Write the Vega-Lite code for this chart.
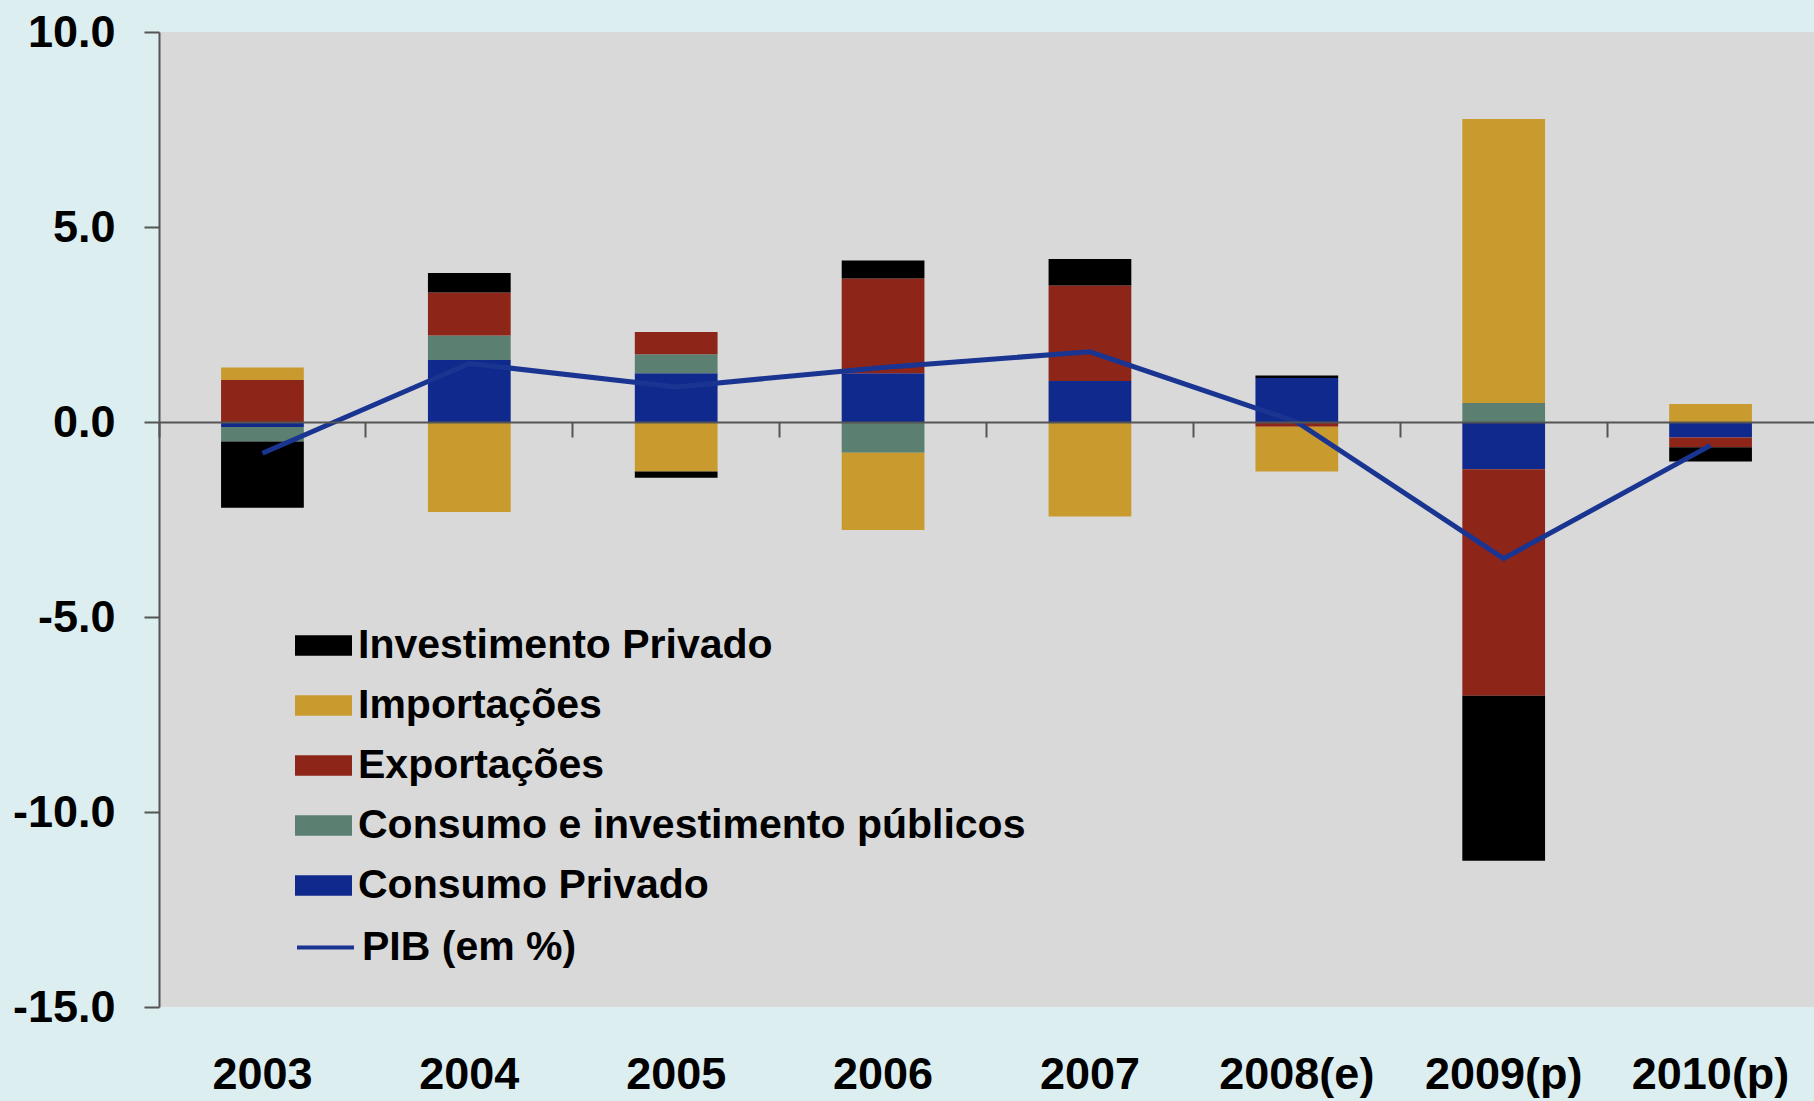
{
  "$schema": "https://vega.github.io/schema/vega-lite/v6.json",
  "width": 1655,
  "height": 975,
  "autosize": "none",
  "padding": {"left": 159, "top": 32, "right": 0, "bottom": 94},
  "background": "#DCEEF0",
  "config": {"view": {"fill": "#D9D9D9", "stroke": null}, "font": "Liberation Sans"},
  "datasets": {
    "bars": [
      {"ano": "2003", "serie": "Consumo Privado", "ordem": 1, "valor": -0.13},
      {"ano": "2003", "serie": "Consumo e investimento públicos", "ordem": 2, "valor": -0.37},
      {"ano": "2003", "serie": "Exportações", "ordem": 3, "valor": 1.08},
      {"ano": "2003", "serie": "Importações", "ordem": 4, "valor": 0.32},
      {"ano": "2003", "serie": "Investimento Privado", "ordem": 5, "valor": -1.7},
      {"ano": "2004", "serie": "Consumo Privado", "ordem": 1, "valor": 1.59},
      {"ano": "2004", "serie": "Consumo e investimento públicos", "ordem": 2, "valor": 0.63},
      {"ano": "2004", "serie": "Exportações", "ordem": 3, "valor": 1.1},
      {"ano": "2004", "serie": "Importações", "ordem": 4, "valor": -2.31},
      {"ano": "2004", "serie": "Investimento Privado", "ordem": 5, "valor": 0.5},
      {"ano": "2005", "serie": "Consumo Privado", "ordem": 1, "valor": 1.25},
      {"ano": "2005", "serie": "Consumo e investimento públicos", "ordem": 2, "valor": 0.49},
      {"ano": "2005", "serie": "Exportações", "ordem": 3, "valor": 0.57},
      {"ano": "2005", "serie": "Importações", "ordem": 4, "valor": -1.27},
      {"ano": "2005", "serie": "Investimento Privado", "ordem": 5, "valor": -0.16},
      {"ano": "2006", "serie": "Consumo Privado", "ordem": 1, "valor": 1.25},
      {"ano": "2006", "serie": "Consumo e investimento públicos", "ordem": 2, "valor": -0.79},
      {"ano": "2006", "serie": "Exportações", "ordem": 3, "valor": 2.43},
      {"ano": "2006", "serie": "Importações", "ordem": 4, "valor": -1.98},
      {"ano": "2006", "serie": "Investimento Privado", "ordem": 5, "valor": 0.46},
      {"ano": "2007", "serie": "Consumo Privado", "ordem": 1, "valor": 1.05},
      {"ano": "2007", "serie": "Exportações", "ordem": 3, "valor": 2.45},
      {"ano": "2007", "serie": "Importações", "ordem": 4, "valor": -2.42},
      {"ano": "2007", "serie": "Investimento Privado", "ordem": 5, "valor": 0.68},
      {"ano": "2008(e)", "serie": "Consumo Privado", "ordem": 1, "valor": 1.13},
      {"ano": "2008(e)", "serie": "Exportações", "ordem": 3, "valor": -0.12},
      {"ano": "2008(e)", "serie": "Importações", "ordem": 4, "valor": -1.15},
      {"ano": "2008(e)", "serie": "Investimento Privado", "ordem": 5, "valor": 0.06},
      {"ano": "2009(p)", "serie": "Consumo Privado", "ordem": 1, "valor": -1.21},
      {"ano": "2009(p)", "serie": "Consumo e investimento públicos", "ordem": 2, "valor": 0.49},
      {"ano": "2009(p)", "serie": "Exportações", "ordem": 3, "valor": -5.81},
      {"ano": "2009(p)", "serie": "Importações", "ordem": 4, "valor": 7.28},
      {"ano": "2009(p)", "serie": "Investimento Privado", "ordem": 5, "valor": -4.23},
      {"ano": "2010(p)", "serie": "Consumo Privado", "ordem": 1, "valor": -0.4},
      {"ano": "2010(p)", "serie": "Exportações", "ordem": 3, "valor": -0.25},
      {"ano": "2010(p)", "serie": "Importações", "ordem": 4, "valor": 0.46},
      {"ano": "2010(p)", "serie": "Investimento Privado", "ordem": 5, "valor": -0.36}
    ],
    "pib": [
      {"ano": "2003", "pib": -0.8},
      {"ano": "2004", "pib": 1.5},
      {"ano": "2005", "pib": 0.9},
      {"ano": "2006", "pib": 1.4},
      {"ano": "2007", "pib": 1.8},
      {"ano": "2008(e)", "pib": 0.0},
      {"ano": "2009(p)", "pib": -3.5},
      {"ano": "2010(p)", "pib": -0.6}
    ]
  },
  "layer": [
    {
      "data": {"name": "bars"},
      "mark": {"type": "bar"},
      "encoding": {
        "x": {
          "field": "ano", "type": "nominal",
          "scale": {"domain": ["2003", "2004", "2005", "2006", "2007", "2008(e)", "2009(p)", "2010(p)"], "paddingInner": 0.6, "paddingOuter": 0.3},
          "axis": {"orient": "bottom", "title": null, "domain": false, "ticks": false, "labelAngle": 0, "labelFont": "Liberation Sans", "labelFontSize": 45, "labelFontWeight": "bold", "labelColor": "#000000", "labelPadding": 45}
        },
        "y": {
          "field": "valor", "type": "quantitative", "stack": "zero",
          "scale": {"domain": [-15, 10], "nice": false, "zero": false},
          "axis": {"orient": "left", "title": null, "grid": false, "values": [-15, -10, -5, 0, 5, 10],
            "labelExpr": "(datum.value < 0 ? '-' : '') + format(abs(datum.value), '.1f')",
            "labelFont": "Liberation Sans", "labelFontSize": 45, "labelFontWeight": "bold", "labelColor": "#000000",
            "tickSize": 15, "tickColor": "#555555", "tickWidth": 2, "domainColor": "#555555", "domainWidth": 2, "labelPadding": 29}
        },
        "fill": {
          "field": "serie", "type": "nominal",
          "scale": {
            "domain": ["Investimento Privado", "Importações", "Exportações", "Consumo e investimento públicos", "Consumo Privado"],
            "range": ["#000000", "#C99B2F", "#8E2519", "#5B8071", "#10298C"]
          },
          "legend": {
            "orient": "none", "legendX": 136, "legendY": 585, "title": null, "padding": 0,
            "symbolType": "M-1,-0.36H1V0.36H-1Z", "symbolSize": 3249, "symbolStrokeWidth": 0,
            "labelFont": "Liberation Sans", "labelFontSize": 41, "labelFontWeight": "bold", "labelColor": "#000000",
            "labelOffset": 6, "rowPadding": 11, "labelLimit": 1000
          }
        },
        "order": {"field": "ordem", "type": "quantitative", "sort": "ascending"}
      }
    },
    {
      "data": {"name": "pib"},
      "mark": {"type": "line", "strokeWidth": 5},
      "encoding": {
        "x": {
          "field": "ano", "type": "nominal",
          "axis": {"orient": "bottom", "title": null, "labels": false, "grid": false, "offset": -585, "domain": true, "domainColor": "#555555", "domainWidth": 2,
            "ticks": true, "tickColor": "#555555", "tickWidth": 2, "tickSize": 15, "bandPosition": -0.75, "zindex": 1}
        },
        "y": {"field": "pib", "type": "quantitative", "axis": null},
        "stroke": {
          "datum": "PIB (em %)",
          "scale": {"range": ["#1A3591"]},
          "legend": {
            "orient": "none", "legendX": 136, "legendY": 885, "title": null, "padding": 0,
            "symbolType": "stroke", "symbolSize": 3249, "symbolStrokeWidth": 4,
            "labelFont": "Liberation Sans", "labelFontSize": 41, "labelFontWeight": "bold", "labelColor": "#000000",
            "labelOffset": 6, "labelLimit": 1000
          }
        }
      }
    }
  ],
  "resolve": {"axis": {"x": "independent", "y": "independent"}}
}
